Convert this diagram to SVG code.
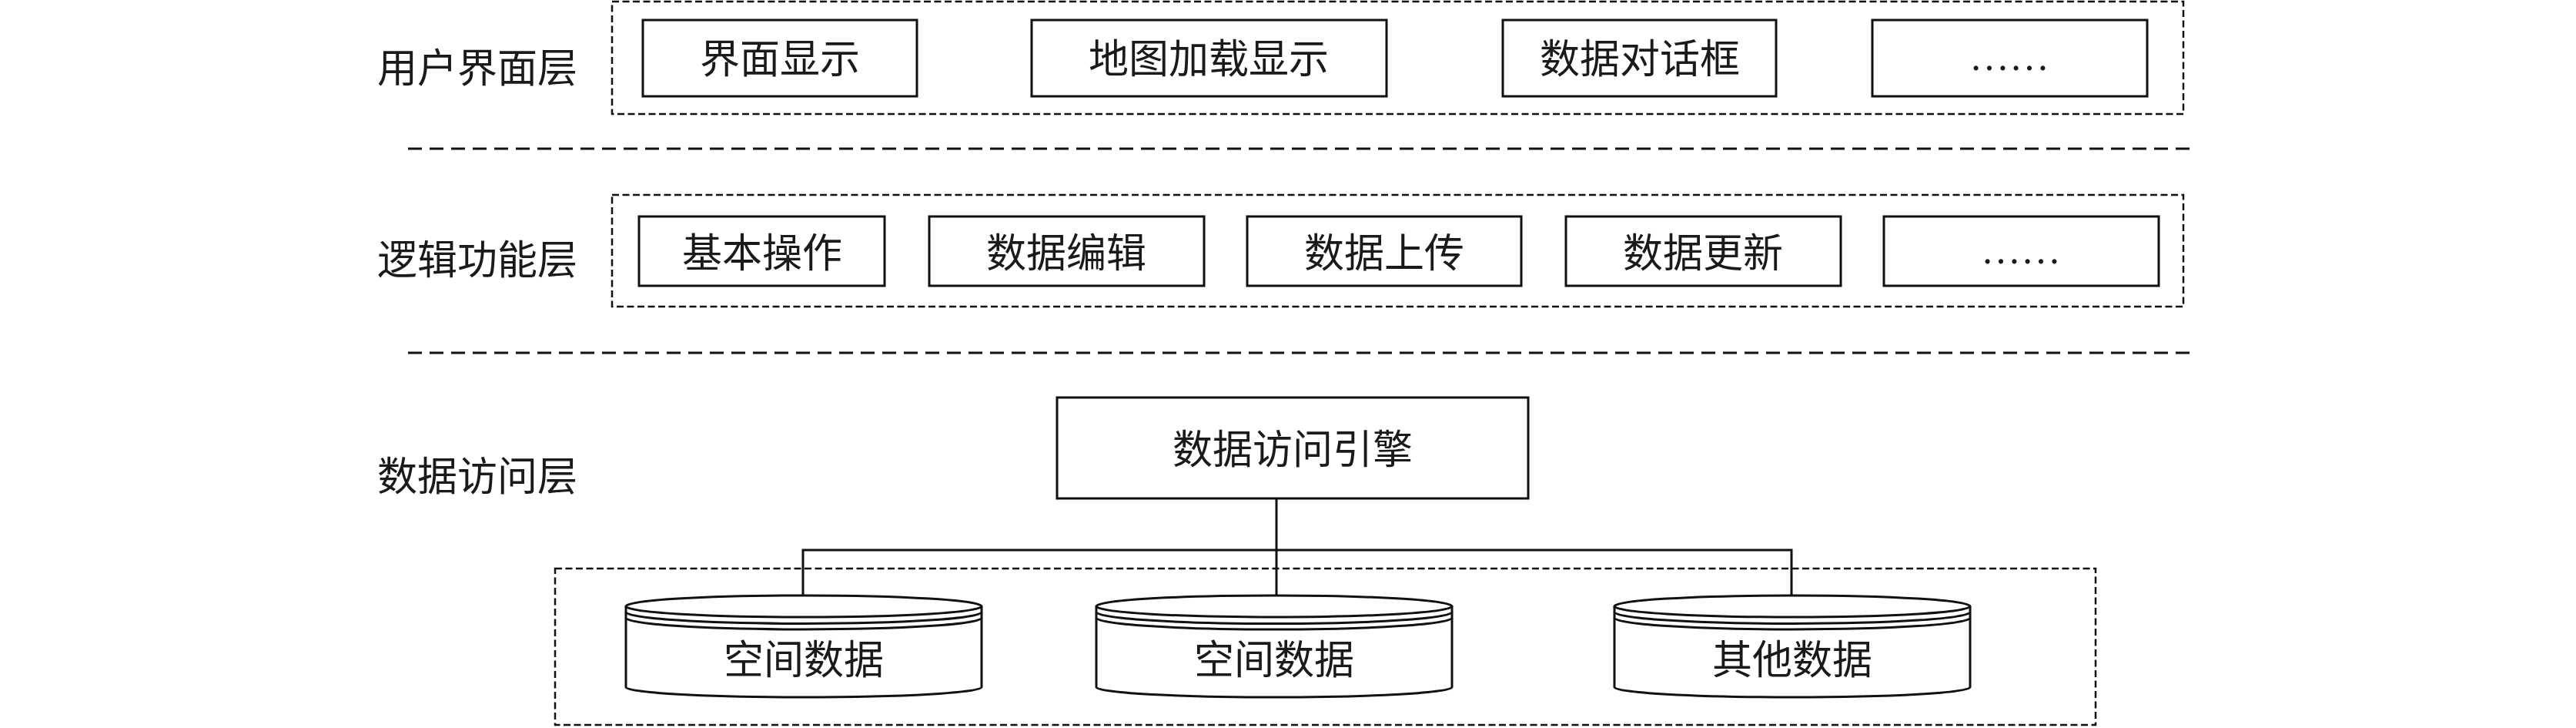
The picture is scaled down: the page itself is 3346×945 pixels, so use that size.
<svg xmlns="http://www.w3.org/2000/svg" width="3346" height="945" viewBox="0 0 3346 945">
<style>
.bg{fill:#fff}
.cont{fill:none;stroke:#111;stroke-width:2.5;stroke-dasharray:9 4.5}
.sep{fill:none;stroke:#111;stroke-width:3;stroke-dasharray:18 10}
.box{fill:#fff;stroke:#111;stroke-width:3}
.conn{fill:none;stroke:#111;stroke-width:3}
.cyl{fill:#fff;stroke:#111;stroke-width:3}
.cyln{fill:none;stroke:#111;stroke-width:3}
.t{font-family:"Noto Sans CJK SC","Noto Sans CJK JP",sans-serif;font-size:52px;fill:#1a1a1a;text-anchor:middle}
.d{font-family:"Liberation Serif",serif;font-size:52px;fill:#1a1a1a;text-anchor:middle}
</style>
<rect class="bg" x="0" y="0" width="3346" height="945"/>

<g id="layers">
<rect class="cont" x="795" y="2" width="2041" height="146"/>
<rect class="cont" x="795" y="253" width="2041" height="145"/>
<rect class="cont" x="721" y="738" width="2001" height="203"/>
<line class="sep" x1="530" y1="193" x2="2853" y2="193"/>
<line class="sep" x1="530" y1="458" x2="2853" y2="458"/>
</g>

<g id="label-ui"><text class="t" x="620" y="107">用户界面层</text></g>
<g id="label-logic"><text class="t" x="620" y="356">逻辑功能层</text></g>
<g id="label-data"><text class="t" x="620" y="637">数据访问层</text></g>

<g id="ui-display"><rect class="box" x="835" y="26" width="356" height="99"/><text class="t" x="1013" y="95">界面显示</text></g>
<g id="ui-map"><rect class="box" x="1340" y="26" width="461" height="99"/><text class="t" x="1570" y="95">地图加载显示</text></g>
<g id="ui-dialog"><rect class="box" x="1952" y="26" width="355" height="99"/><text class="t" x="2130" y="95">数据对话框</text></g>
<g id="ui-more"><rect class="box" x="2432" y="26" width="357" height="99"/><text class="d" x="2610" y="91">……</text></g>

<g id="lg-basic"><rect class="box" x="830" y="281" width="319" height="90"/><text class="t" x="990" y="347">基本操作</text></g>
<g id="lg-edit"><rect class="box" x="1207" y="281" width="357" height="90"/><text class="t" x="1385" y="347">数据编辑</text></g>
<g id="lg-upload"><rect class="box" x="1620" y="281" width="356" height="90"/><text class="t" x="1798" y="347">数据上传</text></g>
<g id="lg-update"><rect class="box" x="2034" y="281" width="357" height="90"/><text class="t" x="2212" y="347">数据更新</text></g>
<g id="lg-more"><rect class="box" x="2447" y="281" width="357" height="90"/><text class="d" x="2625" y="342">……</text></g>

<g id="engine"><rect class="box" x="1373" y="516" width="612" height="131"/><text class="t" x="1679" y="602">数据访问引擎</text></g>

<g id="connectors">
<line class="conn" x1="1658" y1="647" x2="1658" y2="773"/>
<polyline class="conn" points="1043,773 1043,714 2327,714 2327,774"/>
</g>

<g id="db-spatial1" transform="translate(813,787)">
<path class="cyl" d="M0,0 V105 A231,13 0 0 0 462,105 V0"/>
<path class="cyl" d="M0,0 A231,14 0 0 1 462,0 A231,14 0 0 1 0,0 Z"/>
<path class="cyln" d="M0,7.5 A231,15 0 0 0 462,7.5 M0,15 A231,15 0 0 0 462,15"/>
<text class="t" x="231" y="88">空间数据</text>
</g>
<g id="db-spatial2" transform="translate(1424,787)">
<path class="cyl" d="M0,0 V105 A231,13 0 0 0 462,105 V0"/>
<path class="cyl" d="M0,0 A231,14 0 0 1 462,0 A231,14 0 0 1 0,0 Z"/>
<path class="cyln" d="M0,7.5 A231,15 0 0 0 462,7.5 M0,15 A231,15 0 0 0 462,15"/>
<text class="t" x="231" y="88">空间数据</text>
</g>
<g id="db-other" transform="translate(2097,787)">
<path class="cyl" d="M0,0 V105 A231,13 0 0 0 462,105 V0"/>
<path class="cyl" d="M0,0 A231,14 0 0 1 462,0 A231,14 0 0 1 0,0 Z"/>
<path class="cyln" d="M0,7.5 A231,15 0 0 0 462,7.5 M0,15 A231,15 0 0 0 462,15"/>
<text class="t" x="231" y="88">其他数据</text>
</g>
</svg>
